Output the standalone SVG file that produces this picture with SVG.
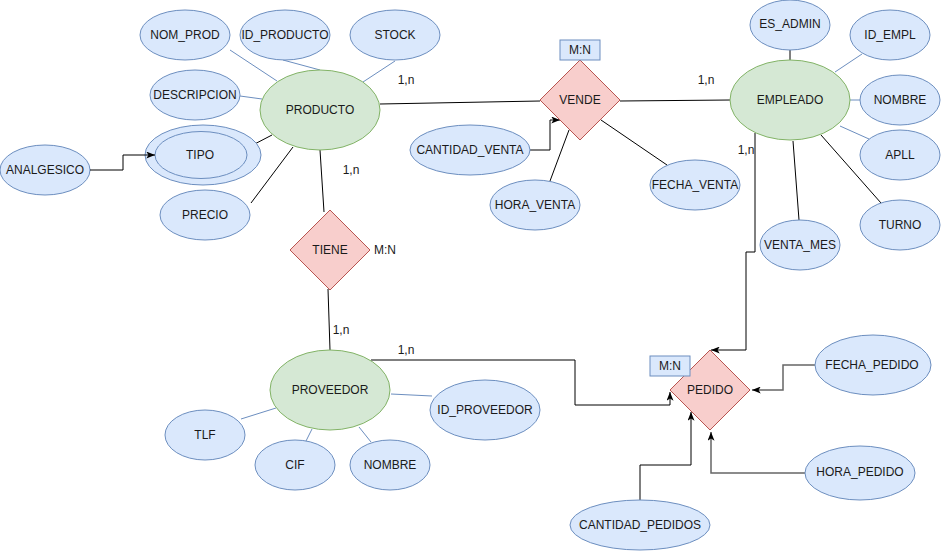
<svg xmlns="http://www.w3.org/2000/svg" width="941" height="551" viewBox="0 0 941 551">
  <style>
    .attr { fill: #dae8fc; stroke: #6c8ebf; stroke-width: 1; }
    .ent { fill: #d5e8d4; stroke: #82b366; stroke-width: 1; }
    .rel { fill: #f8cecc; stroke: #b85450; stroke-width: 1; }
    .card { fill: #dae8fc; stroke: #6c8ebf; stroke-width: 1; }
    text { font-family: "Liberation Sans", Arial, Helvetica, sans-serif; font-size: 12px; fill: #1a1a1a; text-anchor: middle; dominant-baseline: central; }
    .lbl { text-anchor: start; }
    .ln { fill: none; stroke: #000; stroke-width: 1; }
    .lb { fill: none; stroke: #6c8ebf; stroke-width: 1; }
    .lg { fill: none; stroke: #666; stroke-width: 1.5; }
  </style>
  <defs>
    <marker id="arrow" viewBox="0 0 10 8" refX="10" refY="4" markerWidth="9" markerHeight="7" markerUnits="userSpaceOnUse" orient="auto">
      <path d="M0,0 L10,4 L0,8 L2.5,4 z" fill="#000"/>
    </marker>
  </defs>

  <rect width="941" height="551" fill="#fff"/>

  <!-- connectors -->
  <g id="connectors">
    <!-- PRODUCTO attributes -->
    <line class="lb" x1="230" y1="50" x2="277" y2="81"/>
    <line class="lb" x1="283" y1="60" x2="320" y2="70"/>
    <line class="lb" x1="395" y1="61" x2="363" y2="82"/>
    <line class="lb" x1="240" y1="96" x2="262" y2="99"/>
    <line class="ln" x1="247" y1="148" x2="272" y2="135"/>
    <line class="ln" x1="251" y1="203" x2="293" y2="147"/>
    <!-- PRODUCTO - VENDE - EMPLEADO -->
    <line class="ln" x1="380" y1="104" x2="540" y2="101"/>
    <line class="ln" x1="620" y1="101" x2="730" y2="100"/>
    <!-- VENDE attributes -->
    <polyline class="ln" points="530,150 550,150 550,120 560,120" marker-end="url(#arrow)"/>
    <line class="ln" x1="550" y1="181" x2="569" y2="130"/>
    <line class="ln" x1="601" y1="120" x2="667" y2="165"/>
    <!-- EMPLEADO attributes -->
    <line class="ln" x1="790" y1="50" x2="790" y2="60"/>
    <line class="lb" x1="862" y1="54" x2="835" y2="72"/>
    <line class="lb" x1="850" y1="100" x2="861" y2="100"/>
    <line class="lb" x1="840" y1="126" x2="869" y2="139"/>
    <line class="ln" x1="821" y1="135" x2="881" y2="203"/>
    <line class="ln" x1="793" y1="141" x2="799" y2="220"/>
    <!-- EMPLEADO - PEDIDO -->
    <polyline class="ln" points="755,133 755,252 746,252 746,350 711,350" marker-end="url(#arrow)"/>
    <!-- PRODUCTO - TIENE - PROVEEDOR -->
    <line class="ln" x1="320" y1="150" x2="324" y2="212"/>
    <line class="ln" x1="328" y1="289" x2="330" y2="350"/>
    <!-- PROVEEDOR - PEDIDO -->
    <polyline class="ln" points="371,360 575,360 575,405 670,405 670,392" marker-end="url(#arrow)"/>
    <!-- PROVEEDOR attributes -->
    <line class="lb" x1="391" y1="394" x2="432" y2="396"/>
    <line class="lb" x1="241" y1="419" x2="276" y2="408"/>
    <line class="lb" x1="306" y1="441" x2="312" y2="429"/>
    <line class="lb" x1="371" y1="442" x2="359" y2="427"/>
    <!-- PEDIDO attributes -->
    <polyline class="lg" points="815,365 783,365 783,390 752,390" marker-end="url(#arrow)"/>
    <polyline class="lg" points="805,473 711,473 711,432" marker-end="url(#arrow)"/>
    <polyline class="ln" points="640,500 640,465 691,465 691,412" marker-end="url(#arrow)"/>
  </g>

  <!-- cardinality labels -->
  <g id="labels">
    <text x="406" y="80">1,n</text>
    <text x="706" y="80">1,n</text>
    <text x="351" y="170">1,n</text>
    <text x="746" y="150">1,n</text>
    <text x="341" y="330">1,n</text>
    <text x="406" y="350">1,n</text>
  </g>

  <!-- PRODUCTO -->
  <g id="producto">
    <ellipse class="ent" cx="320" cy="110" rx="60" ry="40"/>
    <text x="320" y="110">PRODUCTO</text>
  </g>
  <g id="nom_prod">
    <ellipse class="attr" cx="185" cy="35" rx="45" ry="25"/>
    <text x="185" y="35">NOM_PROD</text>
  </g>
  <g id="id_producto">
    <ellipse class="attr" cx="285" cy="35" rx="45" ry="25"/>
    <text x="285" y="35">ID_PRODUCTO</text>
  </g>
  <g id="stock">
    <ellipse class="attr" cx="395" cy="35" rx="45" ry="25"/>
    <text x="395" y="35">STOCK</text>
  </g>
  <g id="descripcion">
    <ellipse class="attr" cx="195" cy="95" rx="45" ry="25"/>
    <text x="195" y="95">DESCRIPCION</text>
  </g>
  <g id="tipo">
    <ellipse class="attr" cx="203" cy="155" rx="58" ry="30"/>
    <ellipse class="attr" cx="201" cy="155" rx="46" ry="23.5"/>
    <text x="200" y="155">TIPO</text>
  </g>
  <g id="analgesico">
    <ellipse class="attr" cx="45" cy="170" rx="45" ry="25"/>
    <text x="45" y="170">ANALGESICO</text>
  </g>
  <g id="precio">
    <ellipse class="attr" cx="205" cy="215" rx="45" ry="25"/>
    <text x="205" y="215">PRECIO</text>
  </g>

  <!-- arrow into the multivalued TIPO attribute, drawn over its outer ring -->
  <g id="connector-analgesico-tipo">
    <polyline class="ln" points="90,170 123,170 123,155 155,155" marker-end="url(#arrow)"/>
  </g>

  <!-- VENDE -->
  <g id="vende">
    <polygon class="rel" points="580,60 620,100 580,140 540,100"/>
    <text x="580" y="100">VENDE</text>
    <rect class="card" x="560" y="40" width="40" height="20"/>
    <text x="580" y="50">M:N</text>
  </g>
  <g id="cantidad_venta">
    <ellipse class="attr" cx="470" cy="150" rx="60" ry="25"/>
    <text x="470" y="150">CANTIDAD_VENTA</text>
  </g>
  <g id="hora_venta">
    <ellipse class="attr" cx="535" cy="205" rx="45" ry="25"/>
    <text x="535" y="205">HORA_VENTA</text>
  </g>
  <g id="fecha_venta">
    <ellipse class="attr" cx="695" cy="185" rx="45" ry="25"/>
    <text x="695" y="185">FECHA_VENTA</text>
  </g>

  <!-- EMPLEADO -->
  <g id="empleado">
    <ellipse class="ent" cx="790" cy="100" rx="60" ry="40"/>
    <text x="790" y="100">EMPLEADO</text>
  </g>
  <g id="es_admin">
    <ellipse class="attr" cx="790" cy="25" rx="40" ry="25"/>
    <text x="790" y="24">ES_ADMIN</text>
  </g>
  <g id="id_empl">
    <ellipse class="attr" cx="890" cy="35" rx="40" ry="25"/>
    <text x="890" y="35">ID_EMPL</text>
  </g>
  <g id="nombre_empl">
    <ellipse class="attr" cx="900" cy="100" rx="40" ry="25"/>
    <text x="900" y="100">NOMBRE</text>
  </g>
  <g id="apll">
    <ellipse class="attr" cx="900" cy="155" rx="40" ry="25"/>
    <text x="900" y="155">APLL</text>
  </g>
  <g id="turno">
    <ellipse class="attr" cx="900" cy="225" rx="40" ry="25"/>
    <text x="900" y="225">TURNO</text>
  </g>
  <g id="venta_mes">
    <ellipse class="attr" cx="800" cy="245" rx="40" ry="25"/>
    <text x="800" y="245">VENTA_MES</text>
  </g>

  <!-- TIENE -->
  <g id="tiene">
    <polygon class="rel" points="330,210 370,250 330,290 290,250"/>
    <text x="330" y="250">TIENE</text>
    <text class="lbl" x="374" y="250">M:N</text>
  </g>

  <!-- PROVEEDOR -->
  <g id="proveedor">
    <ellipse class="ent" cx="330" cy="390" rx="60" ry="40"/>
    <text x="330" y="390">PROVEEDOR</text>
  </g>
  <g id="id_proveedor">
    <ellipse class="attr" cx="485" cy="410" rx="55" ry="30"/>
    <text x="485" y="410">ID_PROVEEDOR</text>
  </g>
  <g id="tlf">
    <ellipse class="attr" cx="205" cy="435" rx="40" ry="25"/>
    <text x="205" y="435">TLF</text>
  </g>
  <g id="cif">
    <ellipse class="attr" cx="295" cy="465" rx="40" ry="25"/>
    <text x="295" y="465">CIF</text>
  </g>
  <g id="nombre_prov">
    <ellipse class="attr" cx="390" cy="465" rx="40" ry="25"/>
    <text x="390" y="465">NOMBRE</text>
  </g>

  <!-- PEDIDO -->
  <g id="pedido">
    <polygon class="rel" points="710,350 750,390 710,430 670,390"/>
    <text x="710" y="390">PEDIDO</text>
    <rect class="card" x="650" y="356" width="40" height="20"/>
    <text x="670" y="366">M:N</text>
  </g>
  <g id="fecha_pedido">
    <ellipse class="attr" cx="873" cy="365" rx="58" ry="30"/>
    <text x="872" y="365">FECHA_PEDIDO</text>
  </g>
  <g id="hora_pedido">
    <ellipse class="attr" cx="860" cy="473" rx="55" ry="27"/>
    <text x="860" y="472">HORA_PEDIDO</text>
  </g>
  <g id="cantidad_pedidos">
    <ellipse class="attr" cx="640" cy="525" rx="70" ry="25"/>
    <text x="640" y="525">CANTIDAD_PEDIDOS</text>
  </g>
</svg>
